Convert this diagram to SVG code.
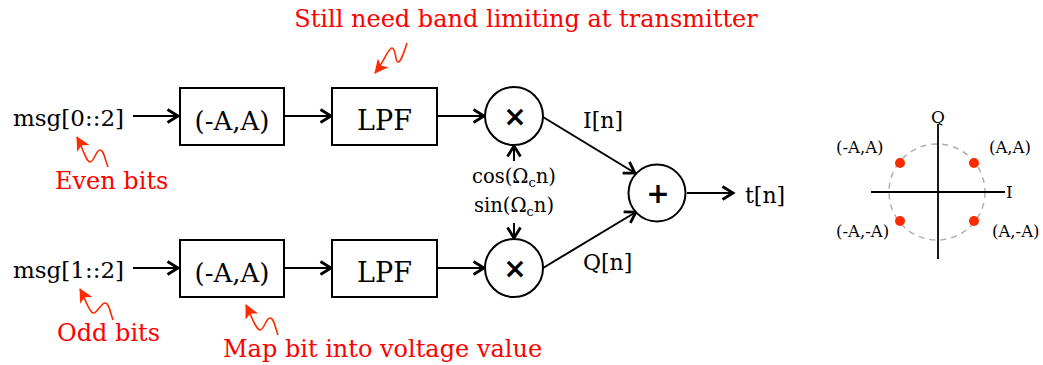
<svg xmlns="http://www.w3.org/2000/svg" width="1043" height="365" viewBox="0 0 1043 365">
<style>
  .t { font-family: "DejaVu Serif", serif; fill: #000; }
  .red { font-family: "DejaVu Serif", serif; fill: #ff0000; font-size: 24px; }
  .box { fill: #fff; stroke: #000; stroke-width: 2; }
  .conn { stroke: #000; stroke-width: 2; fill: none; }
  .sq { stroke: #ff2a00; stroke-width: 1.6; fill: none; }
  .op { font-family: "DejaVu Sans", sans-serif; font-weight: bold; font-size: 28px; fill: #000; }
</style>
<defs>
  <marker id="ah" markerUnits="userSpaceOnUse" markerWidth="16" markerHeight="18" refX="12" refY="8" orient="auto">
    <path d="M1.5,1.5 L12,8 L1.5,14.5" fill="none" stroke="#000" stroke-width="2.8" stroke-linejoin="miter"/>
  </marker>
  <marker id="rh" markerUnits="userSpaceOnUse" markerWidth="16" markerHeight="16" refX="13" refY="7" orient="auto">
    <path d="M0,0 L14,7 L0,14 L3.5,7 Z" fill="#ff2a00"/>
  </marker>
</defs>

<g id="connectors">
  <line class="conn" x1="133" y1="116" x2="178" y2="116" marker-end="url(#ah)"/>
  <line class="conn" x1="285" y1="116" x2="331" y2="116" marker-end="url(#ah)"/>
  <line class="conn" x1="438" y1="116" x2="484" y2="116" marker-end="url(#ah)"/>
  <line class="conn" x1="133" y1="268" x2="178" y2="268" marker-end="url(#ah)"/>
  <line class="conn" x1="285" y1="268" x2="331" y2="268" marker-end="url(#ah)"/>
  <line class="conn" x1="438" y1="268" x2="484" y2="268" marker-end="url(#ah)"/>
  <line class="conn" x1="514" y1="161" x2="514" y2="146" marker-end="url(#ah)"/>
  <line class="conn" x1="514" y1="223" x2="514" y2="238" marker-end="url(#ah)"/>
  <line class="conn" x1="543" y1="117" x2="635" y2="173" marker-end="url(#ah)"/>
  <line class="conn" x1="543" y1="268" x2="636" y2="212" marker-end="url(#ah)"/>
  <line class="conn" x1="687" y1="193" x2="733" y2="193" marker-end="url(#ah)"/>
</g>

<g id="in0"><text class="t" x="13" y="126" font-size="23">msg[0::2]</text></g>
<g id="in1"><text class="t" x="13" y="278" font-size="23">msg[1::2]</text></g>

<g id="map0"><rect class="box" x="180" y="88" width="104" height="57"/><text class="t" x="232" y="130" font-size="26" text-anchor="middle">(-A,A)</text></g>
<g id="lpf0"><rect class="box" x="332" y="88" width="105" height="57"/><text class="t" x="384.5" y="130" font-size="27" text-anchor="middle">LPF</text></g>
<g id="map1"><rect class="box" x="180" y="240" width="104" height="57"/><text class="t" x="232" y="282" font-size="26" text-anchor="middle">(-A,A)</text></g>
<g id="lpf1"><rect class="box" x="332" y="240" width="105" height="57"/><text class="t" x="384.5" y="282" font-size="27" text-anchor="middle">LPF</text></g>

<g id="mul0"><circle class="box" cx="514" cy="116" r="29"/><text class="op" x="515" y="126" text-anchor="middle">×</text></g>
<g id="mul1"><circle class="box" cx="514" cy="268" r="29"/><text class="op" x="515" y="278" text-anchor="middle">×</text></g>
<g id="sum"><circle class="box" cx="657" cy="193" r="28.5"/><text class="op" x="658" y="203" text-anchor="middle">+</text></g>

<g id="carriers">
  <text class="t" x="514" y="183" font-size="19.5" text-anchor="middle">cos(Ω<tspan font-size="13" dy="4">c</tspan><tspan dy="-4">n)</tspan></text>
  <text class="t" x="514" y="212" font-size="19.5" text-anchor="middle">sin(Ω<tspan font-size="13" dy="4">c</tspan><tspan dy="-4">n)</tspan></text>
</g>

<g id="labels">
  <text class="t" x="583" y="128" font-size="22">I[n]</text>
  <text class="t" x="583" y="270" font-size="22">Q[n]</text>
  <text class="t" x="745" y="203" font-size="22">t[n]</text>
</g>

<g id="annotations">
  <text class="red" x="526" y="27" text-anchor="middle" font-size="24.4">Still need band limiting at transmitter</text>
  <path class="sq" d="M407,43 C404,52 401,62 398,62 C395,62 396,48 392,48 C388,48 384,62 375,73" marker-end="url(#rh)"/>
  <text class="red" x="55" y="189">Even bits</text>
  <path class="sq" d="M108,167 C105,160 104,150 100,150 C96,150 94,162 90,162 C86,162 82,146 77,137" marker-end="url(#rh)"/>
  <text class="red" x="57" y="341">Odd bits</text>
  <path class="sq" d="M113,320 C110,312 109,303 105,303 C101,303 97,314 93,313 C89,312 85,298 80,289" marker-end="url(#rh)"/>
  <text class="red" x="223" y="357">Map bit into voltage value</text>
  <path class="sq" d="M278,335 C275,327 274,318 270,318 C266,318 264,330 260,330 C256,330 251,315 246,305" marker-end="url(#rh)"/>
</g>

<g id="constellation">
  <circle cx="937" cy="192" r="48" fill="none" stroke="#b0b0b0" stroke-width="1.5" stroke-dasharray="6,5"/>
  <line x1="938" y1="124" x2="938" y2="259" stroke="#000" stroke-width="1.8"/>
  <line x1="871" y1="192" x2="1005" y2="192" stroke="#000" stroke-width="1.8"/>
  <text class="t" x="938" y="123" font-size="17" text-anchor="middle">Q</text>
  <text class="t" x="1006" y="198" font-size="17">I</text>
  <circle cx="900" cy="163" r="5" fill="#ff2a00"/>
  <circle cx="974" cy="163" r="5" fill="#ff2a00"/>
  <circle cx="900" cy="221" r="5" fill="#ff2a00"/>
  <circle cx="974" cy="221" r="5" fill="#ff2a00"/>
  <text class="t" x="836" y="153" font-size="16.5">(-A,A)</text>
  <text class="t" x="989" y="153" font-size="16.5">(A,A)</text>
  <text class="t" x="836" y="237" font-size="16.5">(-A,-A)</text>
  <text class="t" x="992" y="237" font-size="16.5">(A,-A)</text>
</g>
</svg>
